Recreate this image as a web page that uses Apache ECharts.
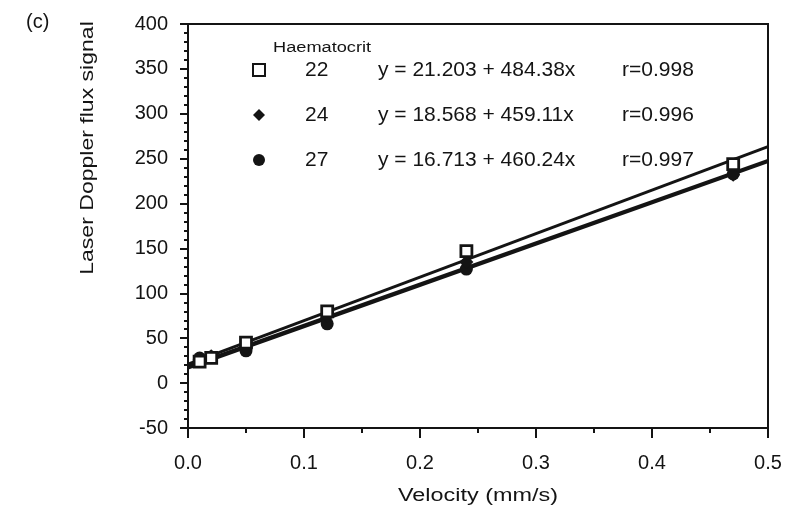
<!DOCTYPE html>
<html>
<head>
<meta charset="utf-8">
<script src="https://cdn.jsdelivr.net/npm/echarts@6/dist/echarts.min.js"></script>
<style>html,body{margin:0;padding:0;background:#fff}#c{width:788px;height:513px}</style>
</head>
<body>
<div id="c"></div>
<script>
// Data
const velocity = [0.01, 0.02, 0.05, 0.12, 0.24, 0.47];
const flux22 = [24, 28, 45, 80, 147, 244];
const flux24 = [26, 30, 40, 75, 135, 232];
const flux27 = [28, 29, 36, 66, 127, 233];
const groups = ['22', '24', '27'];
const equations = ['y = 21.203 + 484.38x', 'y = 18.568 + 459.11x', 'y = 16.713 + 460.24x'];
const rValues = ['r=0.998', 'r=0.996', 'r=0.997'];
// Fitted line end points (at velocity 0 and 0.5)
const fitX = [0, 0.5];
const fit22 = [21.2, 263.4];
const fit24 = [18.6, 248.1];
const fit27 = [16.7, 246.8];
const xTicks = [0.0, 0.1, 0.2, 0.3, 0.4, 0.5];
const yTicks = [-50, 0, 50, 100, 150, 200, 250, 300, 350, 400];

const ink = '#141414';
const font = '"Liberation Sans", Arial, sans-serif';
const pairs = (xs, ys) => xs.map((x, i) => [x, ys[i]]);

const chart = echarts.init(document.getElementById('c'));
const lineSeries = (d) => ({
  type: 'line', data: pairs(fitX, d), symbol: 'none', silent: true,
  lineStyle: { color: ink, width: 3 }, z: 2, legendHoverLink: false
});
const rt = { fontFamily: font, color: ink, fontSize: 21, lineHeight: 22 };
chart.setOption({
  backgroundColor: '#fff',
  animation: false,
  grid: { left: 188, right: 20, top: 24, bottom: 85, show: true, borderColor: ink, borderWidth: 2, backgroundColor: 'transparent' },
  xAxis: {
    type: 'value', min: xTicks[0], max: xTicks[xTicks.length - 1], interval: 0.1,
    axisLine: { show: true, onZero: false, lineStyle: { color: ink, width: 2 } },
    axisTick: { show: true, length: 10, lineStyle: { color: ink, width: 2 } },
    minorTick: { show: true, splitNumber: 2, length: 5, lineStyle: { color: ink, width: 2 } },
    splitLine: { show: false },
    axisLabel: { margin: 25, color: ink, fontSize: 20, fontFamily: font, formatter: v => v.toFixed(1) }
  },
  yAxis: {
    type: 'value', min: yTicks[0], max: yTicks[yTicks.length - 1], interval: 50,
    axisLine: { show: true, onZero: false, lineStyle: { color: ink, width: 2 } },
    axisTick: { show: true, length: 8, lineStyle: { color: ink, width: 2 } },
    minorTick: { show: true, splitNumber: 5, length: 4, lineStyle: { color: ink, width: 2 } },
    splitLine: { show: false },
    axisLabel: { margin: 20, color: ink, fontSize: 20, fontFamily: font }
  },
  legend: {
    orient: 'vertical', left: 252, top: 59, padding: 0, itemWidth: 12, itemHeight: 12, itemGap: 23,
    data: groups,
    formatter: name => {
      const i = groups.indexOf(name);
      return '{s|}{n|' + name + '}{e|' + equations[i] + '}{r|' + rValues[i] + '}';
    },
    textStyle: {
      color: ink, fontFamily: font, fontSize: 21, lineHeight: 22,
      rich: {
        s: Object.assign({ width: 35 }, rt),
        n: Object.assign({ width: 73 }, rt),
        e: Object.assign({ width: 244 }, rt),
        r: Object.assign({}, rt)
      }
    }
  },
  graphic: [
    { type: 'text', x: 26, y: 22, style: { text: '(c)', font: '20px ' + font, fill: ink, verticalAlign: 'middle' } },
    { type: 'text', x: 273, y: 48, scaleX: 1.3, style: { text: 'Haematocrit', font: '14px ' + font, fill: ink, verticalAlign: 'middle' } },
    { type: 'text', x: 88, y: 148, rotation: Math.PI / 2, scaleX: 1.28, style: { text: 'Laser Doppler flux signal', font: '18px ' + font, fill: ink, align: 'center', verticalAlign: 'middle' } },
    { type: 'text', x: 478, y: 496, scaleX: 1.3, style: { text: 'Velocity (mm/s)', font: '18px ' + font, fill: ink, align: 'center', verticalAlign: 'middle' } }
  ],
  series: [
    lineSeries(fit22), lineSeries(fit24), lineSeries(fit27),
    { name: '22', type: 'scatter', data: pairs(velocity, flux22), symbol: 'rect', symbolSize: 11, z: 5,
      itemStyle: { color: '#fff', borderColor: ink, borderWidth: 2.8, opacity: 1 } },
    { name: '24', type: 'scatter', data: pairs(velocity, flux24), symbol: 'diamond', symbolSize: 14, z: 4,
      itemStyle: { color: ink, opacity: 1 } },
    { name: '27', type: 'scatter', data: pairs(velocity, flux27), symbol: 'circle', symbolSize: 13, z: 3,
      itemStyle: { color: ink, opacity: 1 } }
  ]
});
</script>
</body>
</html>
